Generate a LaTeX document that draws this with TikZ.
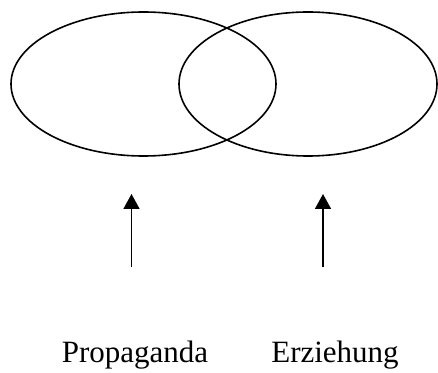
\documentclass[tikz,border=0pt]{standalone}
\usepackage{fontspec}
\setmainfont{Liberation Serif}
\usetikzlibrary{arrows.meta}
\begin{document}
\begin{tikzpicture}[x=1pt,y=1pt,
  ring/.style={draw=black,line width=1.6pt},
  uparrow/.style={line width=1.6pt,-{Triangle[width=16pt,length=15pt]}},
  label/.style={font=\fontsize{31}{34}\selectfont,inner sep=0pt,anchor=base}]
\useasboundingbox (0,0) rectangle (438,372);
\path[ring] (143.5,288) ellipse [x radius=132.5, y radius=72];
\path[ring] (308,288) ellipse [x radius=129, y radius=72];
\coordinate (a1s) at (131.5,105);
\coordinate (a1e) at (131.5,178);
\coordinate (a2s) at (323,105);
\coordinate (a2e) at (323,178);
\draw[uparrow] (a1s) -- (a1e);
\draw[uparrow] (a2s) -- (a2e);
\node[label] (prop) at (135,10) {Propaganda};
\node[label] (erz) at (335,10) {Erziehung};
\end{tikzpicture}
\end{document}
